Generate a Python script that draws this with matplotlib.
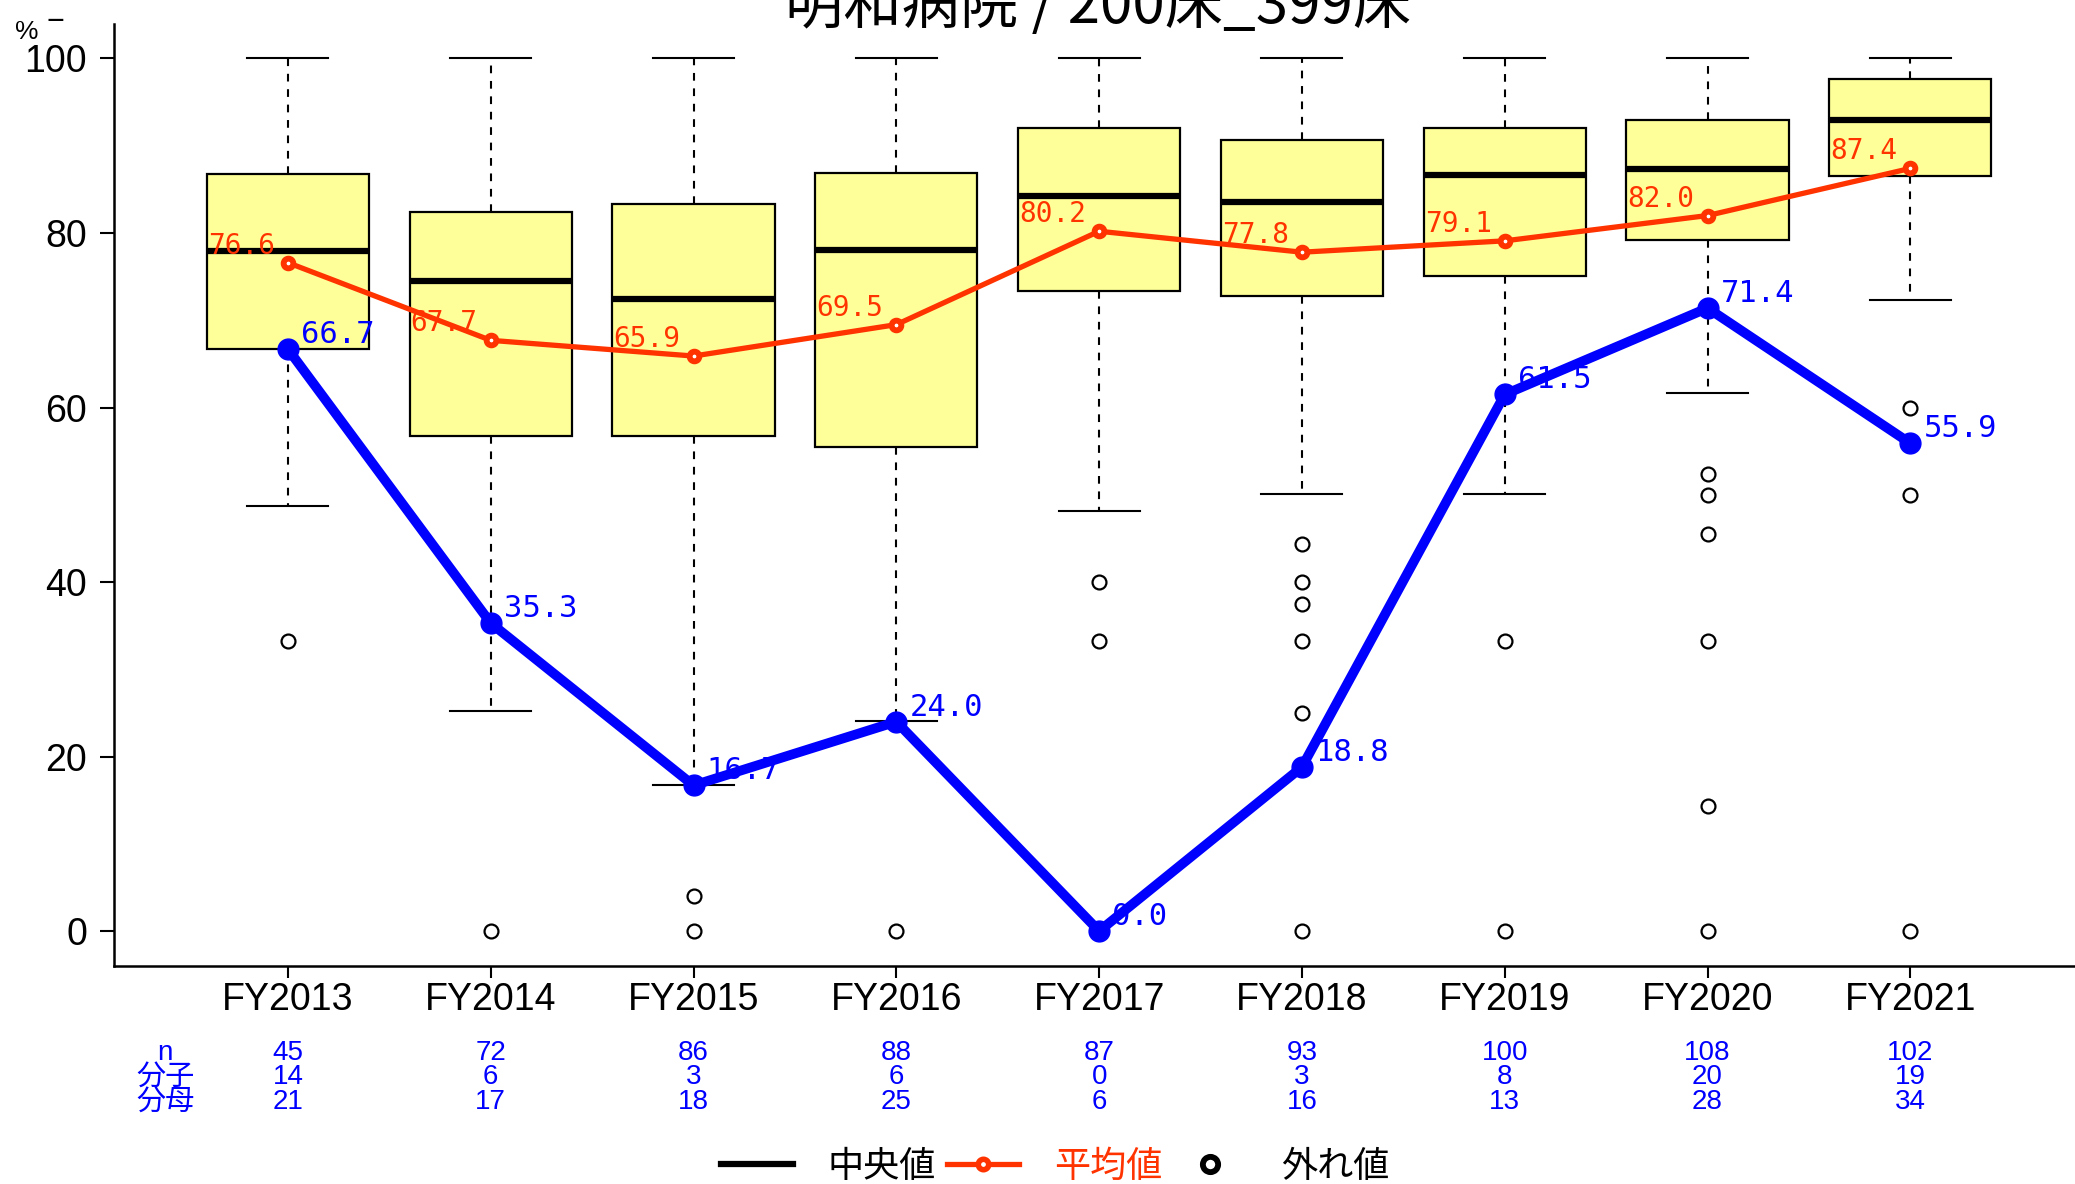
import matplotlib
matplotlib.use('Agg')
import matplotlib.pyplot as plt
from matplotlib.lines import Line2D
from matplotlib import font_manager

# data
years = ['FY2013', 'FY2014', 'FY2015', 'FY2016', 'FY2017',
         'FY2018', 'FY2019', 'FY2020', 'FY2021']
q1 = [66.7, 56.7, 56.7, 55.5, 73.3, 72.8, 75.1, 79.2, 86.5]
med = [77.9, 74.5, 72.4, 78.0, 84.2, 83.6, 86.7, 87.3, 92.9]
q3 = [86.8, 82.4, 83.3, 86.9, 92.0, 90.6, 92.0, 93.0, 97.6]
whislo = [48.7, 25.2, 16.8, 24.1, 48.1, 50.1, 50.1, 61.7, 72.3]
whishi = [100, 100, 100, 100, 100, 100, 100, 100, 100]
fliers = [
    [33.3],
    [0.0],
    [4.0, 0.0],
    [0.0],
    [40.0, 33.3],
    [44.4, 40.0, 37.5, 33.3, 25.0, 0.0],
    [33.3, 0.0],
    [52.4, 50.0, 45.5, 33.3, 14.3, 0.0],
    [60.0, 50.0, 0.0],
]
means = [76.6, 67.7, 65.9, 69.5, 80.2, 77.8, 79.1, 82.0, 87.4]
rates = [66.7, 35.3, 16.7, 24.0, 0.0, 18.8, 61.5, 71.4, 55.9]
n_vals = [45, 72, 86, 88, 87, 93, 100, 108, 102]
numer = [14, 6, 3, 6, 0, 3, 8, 20, 19]
denom = [21, 17, 18, 25, 6, 16, 13, 28, 34]

title = '明和病院 / 200床_399床'
RED = '#ff3300'
BLUE = '#0000ff'
BOXFILL = '#ffff99'
CJK = ['Noto Sans CJK JP', 'DejaVu Sans']

names = {f.name for f in font_manager.fontManager.ttflist}
narrow = 'Liberation Sans Narrow' in names
TICK_FONT = 'Liberation Sans Narrow' if narrow else 'Liberation Sans'
TICK_SIZE = 31 if narrow else 27

fig = plt.figure(figsize=(20.75, 11.84), dpi=100)
ax = fig.add_axes([0.0547, 0.1841, 0.950, 0.796])

pos = list(range(1, len(years) + 1))
stats = []
for i in range(len(years)):
    stats.append(dict(med=med[i], q1=q1[i], q3=q3[i],
                      whislo=whislo[i], whishi=whishi[i], fliers=fliers[i]))

ax.bxp(stats, positions=pos, widths=0.8, capwidths=0.4, patch_artist=True,
       boxprops=dict(facecolor=BOXFILL, edgecolor='black', linewidth=1.6),
       medianprops=dict(color='black', linewidth=4.5),
       whiskerprops=dict(color='black', linewidth=1.5, linestyle=(0, (3.7, 3.7))),
       capprops=dict(color='black', linewidth=1.5),
       flierprops=dict(marker='o', markerfacecolor='none', markeredgecolor='black',
                       markersize=10, markeredgewidth=1.6, linestyle='none'))

ax.plot(pos, means, color=RED, lw=3.8, marker='o', ms=7, mew=4.2,
        mfc='white', mec=RED, zorder=4)
ax.plot(pos, rates, color=BLUE, lw=7, marker='o', ms=15, zorder=5)

for x, v in zip(pos, means):
    ax.annotate(f'{v:.1f}', (x, v), xytext=(-9.4, 6.5), textcoords='offset points',
                ha='right', va='baseline', color=RED, fontsize=20,
                family='DejaVu Sans Mono', zorder=6)
for x, v in zip(pos, rates):
    ax.annotate(f'{v:.1f}', (x, v), xytext=(9.4, 4.3), textcoords='offset points',
                ha='left', va='baseline', color=BLUE, fontsize=22,
                family='DejaVu Sans Mono', zorder=6)

ax.set_xlim(0.14, 9.86)
ax.set_ylim(-4, 104)
ax.set_yticks([0, 20, 40, 60, 80, 100])
ax.set_xticks(pos)
ax.set_xticklabels(years)
for s in ['top', 'right']:
    ax.spines[s].set_visible(False)
for s in ['left', 'bottom']:
    ax.spines[s].set_linewidth(1.8)
ax.tick_params(axis='y', direction='out', length=10, width=1.5, pad=9.0)
ax.tick_params(axis='x', direction='out', length=8.6, width=1.5, pad=3.2)
for lab in ax.get_xticklabels() + ax.get_yticklabels():
    lab.set_fontfamily(TICK_FONT)
    lab.set_fontsize(TICK_SIZE)

# counts table under the axis
trans = ax.get_xaxis_transform()
rows = [n_vals, numer, denom]
row_y = [-0.0992, -0.1257, -0.1522]
for vals, y in zip(rows, row_y):
    for x, v in zip(pos, vals):
        ax.text(x, y, str(v), transform=trans, ha='center', va='baseline',
                color=BLUE, fontsize=20, family='Liberation Sans')
ax.text(0.394, row_y[0], 'n', transform=trans, ha='center', va='baseline',
        color=BLUE, fontsize=20, family='Liberation Sans')
ax.text(0.394, row_y[1], '分子', transform=trans, ha='center', va='baseline',
        color=BLUE, fontsize=21, family=CJK)
ax.text(0.394, row_y[2], '分母', transform=trans, ha='center', va='baseline',
        color=BLUE, fontsize=21, family=CJK)

fig.text(0.5294, 1 - 23 / 1184, title, ha='center', va='baseline',
         fontsize=42, family=CJK)
fig.text(15 / 2075, 1 - 39 / 1184, '%', ha='left', va='baseline',
         fontsize=19, family=TICK_FONT)
fig.text(46 / 2075, 1 - 22 / 1184, '−', ha='left', va='center',
         fontsize=22, family=TICK_FONT)

h1 = Line2D([], [], color='black', lw=4.5)
h2 = Line2D([], [], color=RED, lw=3.8, marker='o', ms=7.5, mew=4, mfc='white', mec=RED)
h3 = Line2D([], [], linestyle='none', marker='o', ms=11, mew=4.2, mfc='white', mec='black')
leg = fig.legend([h1, h2, h3], ['中央値', '平均値', '外れ値'], ncol=3, loc='center',
                 bbox_to_anchor=(0.5084, 0.0145), frameon=False,
                 prop=dict(family='Noto Sans CJK JP', size=26),
                 handlelength=2.0, handletextpad=0.97, columnspacing=0.3,
                 borderpad=0, borderaxespad=0)
leg.get_texts()[1].set_color(RED)

fig.savefig('out.png', dpi=100)
